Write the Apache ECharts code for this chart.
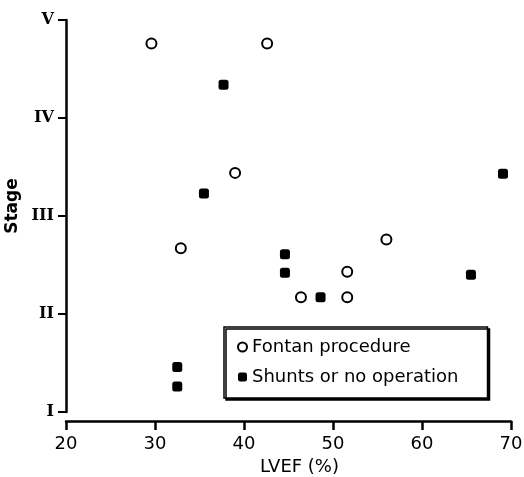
<!DOCTYPE html>
<html>
<head>
<meta charset="utf-8">
<script src="https://cdn.jsdelivr.net/npm/echarts@6/dist/echarts.min.js"></script>
<style>
  html, body { margin: 0; padding: 0; background: #fff; }
  #main { width: 524px; height: 477px; }
</style>
</head>
<body>
<div id="main"></div>
<script>
// LVEF (%) vs stage
var fontanLvef  = [29.6, 42.6, 39.0, 32.9, 56.0, 70.4, 51.6, 46.4, 51.6];
var fontanStage = [4.76, 4.76, 3.44, 2.67, 2.76, 3.04, 2.43, 2.17, 2.17];

var shuntLvef  = [37.7, 35.5, 69.1, 44.6, 44.6, 48.6, 65.5, 32.5, 32.5];
var shuntStage = [4.34, 3.23, 3.43, 2.61, 2.42, 2.17, 2.40, 1.46, 1.26];

var stageLabels = ['I', 'II', 'III', 'IV', 'V'];

var chartDom = document.getElementById('main');
var myChart = echarts.init(chartDom, null, { renderer: 'canvas' });
var option;

var pairs = function (xs, ys) {
    return xs.map(function (x, i) { return [x, ys[i]]; });
};

var font = 'DejaVu Sans';

option = {
    animation: false,
    backgroundColor: '#fff',
    grid: {
        left: 66,
        right: 13,
        top: 20,
        bottom: 65,
        containLabel: false,
        outerBoundsMode: 'none'
    },
    legend: {
        orient: 'vertical',
        left: 224,
        top: 327,
        data: ['Fontan procedure', 'Shunts or no operation'],
        itemWidth: 9,
        itemHeight: 9,
        itemGap: 12,
        padding: [11, 29, 12, 13],
        backgroundColor: '#fff',
        borderColor: '#000',
        borderWidth: 1.5,
        borderRadius: 0,
        shadowColor: '#000',
        shadowBlur: 0,
        shadowOffsetX: 2,
        shadowOffsetY: 2,
        itemStyle: { opacity: 1 },
        textStyle: {
            fontFamily: font,
            fontSize: 18,
            color: '#000'
        }
    },
    xAxis: {
        type: 'value',
        min: 20,
        max: 70,
        interval: 10,
        offset: 9,
        name: 'LVEF (%)',
        nameLocation: 'middle',
        nameGap: 37,
        nameTextStyle: {
            fontFamily: font,
            fontSize: 18,
            color: '#000',
            padding: [0, 0, 0, 22]
        },
        axisLine: { lineStyle: { color: '#000', width: 2.5 } },
        axisTick: { length: 9, lineStyle: { color: '#000', width: 2.5 } },
        axisLabel: {
            fontFamily: font,
            fontSize: 18,
            color: '#000',
            margin: 14
        },
        splitLine: { show: false }
    },
    yAxis: {
        type: 'value',
        min: 1,
        max: 5,
        interval: 1,
        name: 'Stage',
        nameLocation: 'middle',
        nameGap: 35,
        nameRotate: 90,
        nameTextStyle: {
            fontFamily: font,
            fontSize: 17,
            fontWeight: 'bold',
            color: '#000',
            padding: [0, 0, 0, 20]
        },
        axisLine: { show: true, lineStyle: { color: '#000', width: 2.5 } },
        axisTick: { show: true, length: 8, lineStyle: { color: '#000', width: 2 } },
        axisLabel: {
            fontFamily: 'DejaVu Serif',
            fontWeight: 'bold',
            fontSize: 16,
            color: '#000',
            margin: 12,
            formatter: function (v) { return stageLabels[Math.round(v) - 1] || ''; }
        },
        splitLine: { show: false }
    },
    series: [
        {
            name: 'Fontan procedure',
            type: 'scatter',
            symbol: 'circle',
            symbolSize: 10,
            data: pairs(fontanLvef, fontanStage),
            itemStyle: { color: '#fff', borderColor: '#000', borderWidth: 2, opacity: 1 }
        },
        {
            name: 'Shunts or no operation',
            type: 'scatter',
            symbol: 'roundRect',
            symbolSize: 10,
            data: pairs(shuntLvef, shuntStage),
            itemStyle: { color: '#000', borderColor: '#000', borderWidth: 0, opacity: 1 }
        }
    ]
};

option && myChart.setOption(option);
</script>
</body>
</html>
